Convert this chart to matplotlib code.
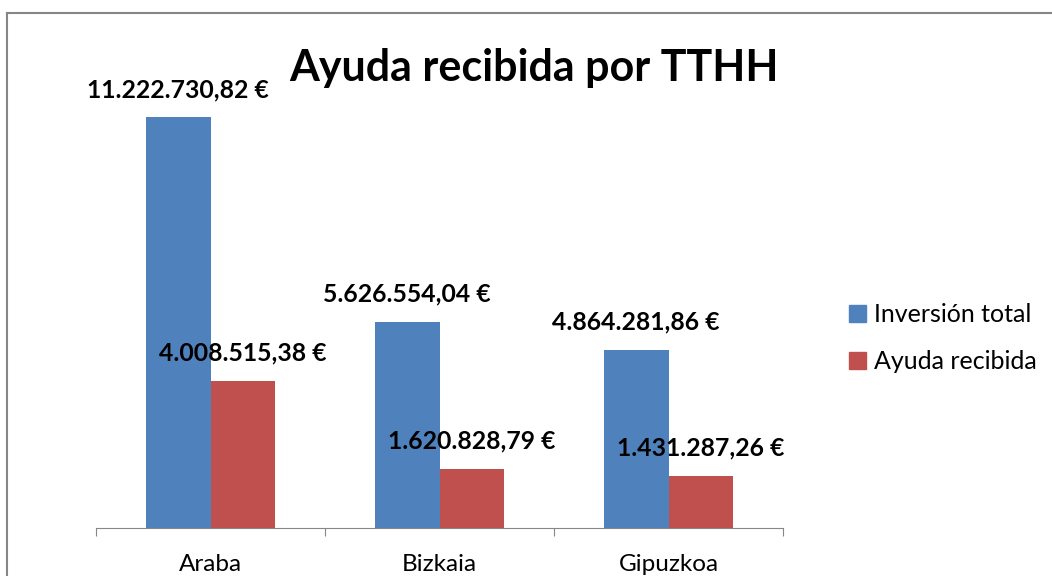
import matplotlib.pyplot as plt
import numpy as np
from matplotlib.lines import Line2D
from matplotlib.patches import Patch

plt.rcParams['font.family'] = ['Lato', 'DejaVu Sans']

categorias = ['Araba', 'Bizkaia', 'Gipuzkoa']
inversion_total = [11222730.82, 5626554.04, 4864281.86]
ayuda_recibida = [4008515.38, 1620828.79, 1431287.26]
series = ['Inversión total', 'Ayuda recibida']

azul = '#4F81BD'
rojo = '#C0504D'
gris = '#868686'

W, H = 1052, 576
fig = plt.figure(figsize=(W / 100, H / 100), dpi=100)
ax = fig.add_axes([96 / W, 1 - 528 / H, (783 - 96) / W, (528 - 89) / H])

def fmt(v):
    s = f'{v:,.2f}'
    s = s.replace(',', 'X').replace('.', ',').replace('X', '.')
    return s + ' €'

x = np.arange(len(categorias))
w = 0.283
b1 = ax.bar(x - w / 2, inversion_total, w, color=azul, label=series[0])
b2 = ax.bar(x + w / 2, ayuda_recibida, w, color=rojo, label=series[1])

for bars, vals in [(b1, inversion_total), (b2, ayuda_recibida)]:
    for b, v in zip(bars, vals):
        ax.annotate(fmt(v), (b.get_x() + b.get_width() / 2, v),
                    xytext=(0, 28), textcoords='offset pixels',
                    ha='center', va='center', fontsize=17.8,
                    fontweight='bold', color='black')

ax.set_xlim(-0.5, 2.5)
ax.set_ylim(0, 12e6)
for s in ['top', 'left', 'right']:
    ax.spines[s].set_visible(False)
ax.spines['bottom'].set_color(gris)
ax.set_yticks([])
ax.set_xticks([-0.5, 0.5, 1.5, 2.5])
ax.set_xticklabels([])
ax.tick_params(axis='x', which='major', length=6, color=gris, direction='out')
ax.set_xticks(x, minor=True)
ax.set_xticklabels(categorias, minor=True, fontsize=17.5)
ax.tick_params(axis='x', which='minor', length=0, pad=19)

fig.text(534 / W, 1 - 68 / H, 'Ayuda recibida por TTHH', ha='center', va='center',
         fontsize=31, fontweight='bold')

handles = [Patch(color=azul), Patch(color=rojo)]
fig.legend(handles, series, loc='center left', bbox_to_anchor=(826 / W, 1 - 338 / H),
           frameon=False, fontsize=18, handlelength=0.68, handleheight=0.68,
           handletextpad=0.35, labelspacing=0.95)

fig.add_artist(Line2D([7 / W, 7 / W], [0, 1 - 13 / H], color=gris, lw=1.5,
                      transform=fig.transFigure))
fig.add_artist(Line2D([7 / W, 1], [1 - 13 / H, 1 - 13 / H], color=gris, lw=1.5,
                      transform=fig.transFigure))

fig.savefig('out.png', dpi=100)
